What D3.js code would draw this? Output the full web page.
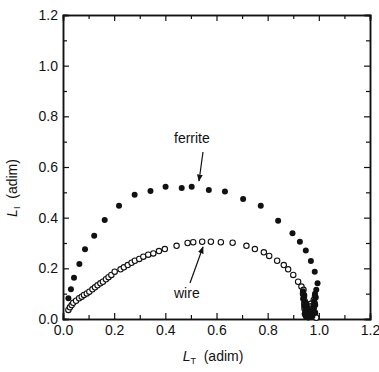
<!DOCTYPE html>
<html>
<head>
<meta charset="utf-8">
<script src="https://cdn.jsdelivr.net/npm/d3@7"></script>
<style>
  body { margin: 0; background: #fff; }
  text { font-family: "Liberation Sans", Arial, sans-serif; fill: #111; }
</style>
</head>
<body>
<svg id="chart" width="379" height="372"></svg>
<script>
// ferrite (filled circles)
const ferriteX = [0.021, 0.031, 0.043, 0.064, 0.086, 0.122, 0.163, 0.219, 0.280, 0.342, 0.401, 0.464,
  0.503, 0.570, 0.633, 0.704, 0.773, 0.841, 0.897, 0.926, 0.949, 0.969, 0.984, 0.995,
  0.990, 0.985, 0.988, 0.982, 0.986, 0.980, 0.984, 0.975, 0.960, 0.950, 0.945, 0.948, 0.943,
  0.946, 0.940, 0.943, 0.955, 0.962, 0.970, 0.938, 0.952, 0.966, 0.978];
const ferriteY = [0.082, 0.117, 0.163, 0.217, 0.275, 0.329, 0.391, 0.447, 0.490, 0.505, 0.522, 0.517,
  0.522, 0.509, 0.503, 0.474, 0.447, 0.388, 0.338, 0.305, 0.270, 0.229, 0.187, 0.141,
  0.115, 0.100, 0.085, 0.070, 0.055, 0.040, 0.025, 0.012, 0.006, 0.010, 0.020, 0.035, 0.050,
  0.065, 0.080, 0.095, 0.045, 0.030, 0.020, 0.110, 0.060, 0.008, 0.050];

// wire (open circles)
const wireX = [0.021, 0.027, 0.034, 0.040, 0.051, 0.063, 0.073, 0.082, 0.093, 0.103, 0.115, 0.125,
  0.135, 0.146, 0.156, 0.168, 0.178, 0.189, 0.202, 0.225, 0.238, 0.253, 0.268, 0.281, 0.298,
  0.314, 0.333, 0.353, 0.375, 0.398, 0.444, 0.487, 0.509, 0.544, 0.578, 0.617, 0.663, 0.717,
  0.750, 0.785, 0.806, 0.837, 0.863, 0.880, 0.900, 0.919, 0.932,
  0.940, 0.938, 0.942, 0.940, 0.945, 0.943, 0.946, 0.944, 0.948, 0.946, 0.950, 0.955, 0.960,
  0.965, 0.962, 0.968, 0.970, 0.975, 0.978, 0.982, 0.985, 0.980, 0.984, 0.980, 0.985, 0.990];
const wireY = [0.036, 0.046, 0.055, 0.064, 0.072, 0.082, 0.088, 0.095, 0.101, 0.108, 0.117, 0.125,
  0.133, 0.141, 0.147, 0.157, 0.165, 0.174, 0.187, 0.196, 0.204, 0.213, 0.222, 0.230, 0.237,
  0.246, 0.254, 0.259, 0.268, 0.276, 0.289, 0.300, 0.303, 0.305, 0.305, 0.303, 0.301, 0.289,
  0.276, 0.263, 0.249, 0.230, 0.213, 0.196, 0.174, 0.147, 0.128,
  0.115, 0.100, 0.090, 0.080, 0.070, 0.060, 0.050, 0.040, 0.030, 0.020, 0.012, 0.008, 0.015,
  0.030, 0.045, 0.060, 0.050, 0.035, 0.020, 0.010, 0.025, 0.045, 0.060, 0.075, 0.090, 0.005];

const majorTicks = [0, 0.2, 0.4, 0.6, 0.8, 1.0, 1.2];
const minorTicks = [0.1, 0.3, 0.5, 0.7, 0.9, 1.1];

const svg = d3.select("#chart");
const x = d3.scaleLinear().domain([0, 1.2]).range([63, 370]);
const y = d3.scaleLinear().domain([0, 1.2]).range([319, 15]);
const fmt = d3.format(".1f");

// axes, ticks pointing inward
svg.append("g").attr("transform", "translate(63,0)")
  .call(d3.axisLeft(y).tickValues(majorTicks).tickSize(-6).tickPadding(5).tickFormat(fmt));
svg.append("g").attr("transform", "translate(63,0)")
  .call(d3.axisLeft(y).tickValues(minorTicks).tickSize(-4).tickFormat(""));
svg.append("g").attr("transform", "translate(0,319)")
  .call(d3.axisBottom(x).tickValues(majorTicks).tickSize(-6).tickPadding(6).tickFormat(fmt));
svg.append("g").attr("transform", "translate(0,319)")
  .call(d3.axisBottom(x).tickValues(minorTicks).tickSize(-4).tickFormat(""));
svg.append("g").attr("transform", "translate(370,0)")
  .call(d3.axisRight(y).tickValues(majorTicks).tickSize(-6).tickFormat(""));
svg.append("g").attr("transform", "translate(370,0)")
  .call(d3.axisRight(y).tickValues(minorTicks).tickSize(-4).tickFormat(""));
svg.append("g").attr("transform", "translate(0,15)")
  .call(d3.axisTop(x).tickValues(majorTicks).tickSize(-6).tickFormat(""));
svg.append("g").attr("transform", "translate(0,15)")
  .call(d3.axisTop(x).tickValues(minorTicks).tickSize(-4).tickFormat(""));

svg.selectAll(".domain").attr("stroke", "#111").attr("stroke-width", 1.5);
svg.selectAll(".tick line").attr("stroke", "#111").attr("stroke-width", 1.2);
svg.selectAll(".tick text").style("font-size", "14px").attr("fill", "#222");

// data points
const wire = d3.zip(wireX, wireY);
const ferrite = d3.zip(ferriteX, ferriteY);

svg.append("g").selectAll("circle").data(wire).join("circle")
  .attr("cx", d => x(d[0])).attr("cy", d => y(d[1])).attr("r", 2.7)
  .attr("fill", "#fff").attr("stroke", "#111").attr("stroke-width", 1.1);

svg.append("g").selectAll("circle").data(ferrite).join("circle")
  .attr("cx", d => x(d[0])).attr("cy", d => y(d[1])).attr("r", 3)
  .attr("fill", "#111");

// annotations
svg.append("defs").append("marker")
  .attr("id", "arr").attr("viewBox", "0 0 10 10").attr("refX", 9).attr("refY", 5)
  .attr("markerWidth", 6).attr("markerHeight", 6).attr("orient", "auto")
  .append("path").attr("d", "M0,1L10,5L0,9Z").attr("fill", "#111");

svg.append("text").attr("x", 174).attr("y", 143).style("font-size", "14px").text("ferrite");
svg.append("line").attr("x1", 203).attr("y1", 152).attr("x2", 199).attr("y2", 181)
  .attr("stroke", "#111").attr("stroke-width", 1.2).attr("marker-end", "url(#arr)");

svg.append("text").attr("x", 174).attr("y", 298).style("font-size", "14px").text("wire");
svg.append("line").attr("x1", 190).attr("y1", 283).attr("x2", 203).attr("y2", 247)
  .attr("stroke", "#111").attr("stroke-width", 1.2).attr("marker-end", "url(#arr)");

// axis titles
const xt = svg.append("text").attr("x", 213).attr("y", 361).attr("text-anchor", "middle")
  .style("font-size", "14px");
xt.append("tspan").style("font-style", "italic").text("L");
xt.append("tspan").attr("dy", 3).style("font-size", "9px").text("T");
xt.append("tspan").attr("dy", -3).text("\u00a0\u00a0(adim)");

const yt = svg.append("text").attr("transform", "translate(17,188) rotate(-90)")
  .attr("text-anchor", "middle").style("font-size", "14px");
yt.append("tspan").style("font-style", "italic").text("L");
yt.append("tspan").attr("dy", 3).style("font-size", "9px").text("I");
yt.append("tspan").attr("dy", -3).text("\u00a0\u00a0(adim)");
</script>
</body>
</html>
